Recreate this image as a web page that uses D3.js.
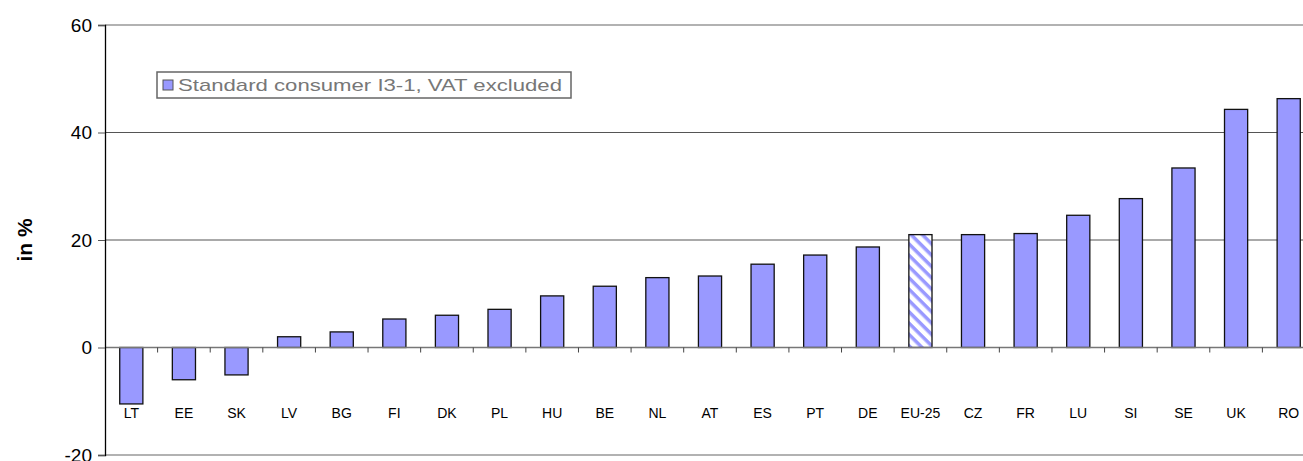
<!DOCTYPE html>
<html>
<head>
<meta charset="utf-8">
<script src="https://cdn.jsdelivr.net/npm/d3@7"></script>
<style>
  body { margin: 0; background: #fff; }
  text { font-family: "Liberation Sans", Arial, sans-serif; }
</style>
</head>
<body>
<svg width="1303" height="461"></svg>
<script>
var countries = ["LT","EE","SK","LV","BG","FI","DK","PL","HU","BE","NL","AT","ES","PT","DE","EU-25","CZ","FR","LU","SI","SE","UK","RO"];
var values = [-10.5,-6.0,-5.1,2.0,2.9,5.3,6.0,7.1,9.6,11.4,13.0,13.3,15.5,17.2,18.7,21.0,21.0,21.2,24.6,27.7,33.4,44.3,46.3];
var yTicks = [-20, 0, 20, 40, 60];
var seriesName = "Standard consumer I3-1, VAT excluded";
var average = "EU-25";

var svg = d3.select("svg");
var plotLeft = 105, plotRight = 1315, plotTop = 25, plotBottom = 455;

var x = d3.scaleBand().domain(countries).range([plotLeft, plotRight]).paddingInner(0.56).paddingOuter(0.28);
var xb = d3.scaleBand().domain(countries).range([plotLeft, plotRight]);
var y = d3.scaleLinear().domain([-20, 60]).range([plotBottom, plotTop]);

var defs = svg.append("defs");
var pat = defs.append("pattern")
    .attr("id", "hatch")
    .attr("patternUnits", "userSpaceOnUse")
    .attr("width", 8).attr("height", 8)
    .attr("patternTransform", "rotate(45)");
pat.append("rect").attr("width", 8).attr("height", 8).attr("fill", "#fff");
pat.append("rect").attr("width", 8).attr("height", 3.5).attr("fill", "#9999ff");

// gridlines
svg.append("g").selectAll("line")
    .data([20, 40])
    .enter().append("line")
    .attr("x1", plotLeft).attr("x2", plotRight)
    .attr("y1", function(d) { return y(d); })
    .attr("y2", function(d) { return y(d); })
    .attr("stroke", "#555").attr("stroke-width", 1);

// plot border top & bottom
svg.append("line").attr("x1", plotLeft).attr("x2", plotRight).attr("y1", y(60)).attr("y2", y(60))
    .attr("stroke", "#999").attr("stroke-width", 1.5);
svg.append("line").attr("x1", plotLeft).attr("x2", plotRight).attr("y1", y(-20)).attr("y2", y(-20))
    .attr("stroke", "#999").attr("stroke-width", 1.5);

// bars
svg.append("g").selectAll("rect")
    .data(countries)
    .enter().append("rect")
    .attr("x", function(d) { return x(d); })
    .attr("width", x.bandwidth())
    .attr("y", function(d, i) { return y(Math.max(0, values[i])); })
    .attr("height", function(d, i) { return Math.abs(y(values[i]) - y(0)); })
    .attr("fill", function(d) { return d == average ? "url(#hatch)" : "#9999ff"; })
    .attr("stroke", "#111").attr("stroke-width", 1.3);

// zero line with category ticks
svg.append("line").attr("x1", plotLeft).attr("x2", plotRight).attr("y1", y(0)).attr("y2", y(0))
    .attr("stroke", "#777").attr("stroke-width", 1.3);
svg.append("g").selectAll("line")
    .data(countries.slice(1))
    .enter().append("line")
    .attr("x1", function(d) { return xb(d); })
    .attr("x2", function(d) { return xb(d); })
    .attr("y1", y(0)).attr("y2", y(0) + 5)
    .attr("stroke", "#444");

// category labels
svg.append("g").selectAll("text")
    .data(countries)
    .enter().append("text")
    .attr("x", function(d) { return x(d) + x.bandwidth() / 2; })
    .attr("y", y(0) + 70)
    .attr("text-anchor", "middle")
    .style("font-size", "14px")
    .text(function(d) { return d; });

// y axis
var yAxis = d3.axisLeft(y).tickValues(yTicks).tickSize(7).tickPadding(6)
    .tickFormat(function(d) { return String(d); });
var ga = svg.append("g").attr("transform", "translate(" + plotLeft + ",0)").call(yAxis);
ga.select(".domain").attr("stroke", "#000").attr("stroke-width", 1.3);
ga.selectAll(".tick line").attr("stroke", "#555");
ga.selectAll(".tick text").style("font-size", "19px").style("font-family", "Liberation Sans, Arial, sans-serif").attr("fill", "#000");

svg.append("text")
    .attr("transform", "translate(32," + 240 + ") rotate(-90)")
    .attr("text-anchor", "middle")
    .style("font-size", "21px").style("font-weight", "bold")
    .text("in %");

// legend
var lg = svg.append("g").attr("transform", "translate(157,72)");
lg.append("rect").attr("width", 414).attr("height", 26)
    .attr("fill", "#fff").attr("stroke", "#666").attr("stroke-width", 1.5);
lg.append("rect").attr("x", 6).attr("y", 8).attr("width", 10).attr("height", 10)
    .attr("fill", "#9999ff").attr("stroke", "#555");
lg.append("text").attr("x", 21).attr("y", 19)
    .style("font-size", "17px").attr("fill", "#777")
    .attr("textLength", 384).attr("lengthAdjust", "spacingAndGlyphs")
    .text(seriesName);
</script>
</body>
</html>
